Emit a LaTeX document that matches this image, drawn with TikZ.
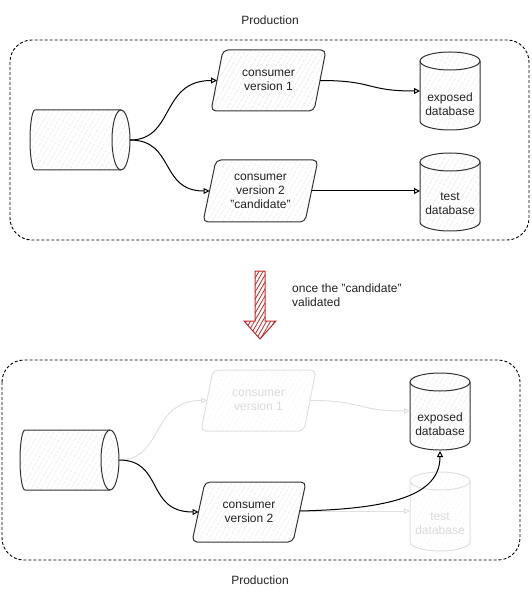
\documentclass[tikz,border=0pt]{standalone}
\usepackage{fontspec}
\setmainfont{Liberation Sans}
\usetikzlibrary{arrows.meta,patterns.meta}
\definecolor{ink}{HTML}{333333}
\definecolor{txtc}{HTML}{222222}
\definecolor{fade}{HTML}{E0E0E0}
\definecolor{fadetext}{HTML}{DADADA}
\definecolor{hatchc}{HTML}{D6D6D6}
\definecolor{fadehatch}{HTML}{F0F0F0}
\definecolor{redline}{HTML}{C62828}

% vertical cylinder: x1 y1 x2 y2 fillopts drawopts  (y grows downwards, arc radii in pt = page angles)
\newcommand{\vcyl}[6]{%
  \pgfmathsetmacro\cylrx{(#3-#1)/2}%
  \path[#5,#6] (#1,#2+9) -- (#1,#4-9) arc[start angle=180,end angle=360,x radius=\cylrx pt,y radius=9pt] -- (#3,#2+9) arc[start angle=0,end angle=180,x radius=\cylrx pt,y radius=9pt] -- cycle;
  \path[#6] (#1,#2+9) arc[start angle=180,end angle=360,x radius=\cylrx pt,y radius=9pt];
}
% horizontal cylinder: x1 y1 x2 y2 fillopts drawopts
\newcommand{\hcyl}[6]{%
  \pgfmathsetmacro\cylry{(#4-#2)/2}%
  \path[#5,#6] (#1+5,#2) -- (#3-9,#2) arc[start angle=90,end angle=-90,x radius=9pt,y radius=\cylry pt] -- (#1+5,#4) arc[start angle=270,end angle=90,x radius=5pt,y radius=\cylry pt] -- cycle;
  \path[#6] (#3-9,#2) arc[start angle=90,end angle=270,x radius=9pt,y radius=\cylry pt];
}

\tikzset{
  hatchfill/.style={pattern={Lines[angle=60,distance=4pt,line width=0.5pt]}, pattern color=hatchc},
  fadefill/.style={pattern={Lines[angle=60,distance=4pt,line width=0.5pt]}, pattern color=fadehatch},
  inkline/.style={draw=ink, line width=1pt},
  fadeline/.style={draw=fade, line width=1pt},
  txt/.style={align=center, font=\fontsize{12}{14}\selectfont, text=txtc, inner sep=0pt},
  fadetxt/.style={txt, text=fadetext},
  frame/.style={draw=black, line width=0.9pt, dash pattern=on 3pt off 2pt, rounded corners=22pt},
  conn/.style={draw=black, line width=1pt, -{Triangle[open,length=6pt,width=6pt]}},
  fadeconn/.style={draw=fade, line width=1pt, -{Triangle[open,length=6pt,width=6pt]}},
  label/.style={font=\fontsize{12}{14}\selectfont, text=txtc, inner sep=0pt},
}

\begin{document}
\begin{tikzpicture}[x=1pt,y=-1pt]
\useasboundingbox (0,0) rectangle (531,601);

% ================= TOP =================
\node[label] (ptop) at (270,20) {Production};
\draw[frame] (10,40) rectangle (529,240);

\hcyl{30}{110}{130}{170}{hatchfill}{inkline}
\coordinate (q1e) at (130,140);

\path[hatchfill,inkline,rounded corners=5pt] (211,111) -- (223,50) -- (326,50) -- (314,111) -- cycle;
\node[txt] (cv1) at (268.5,80.5) {consumer\\version 1};
\coordinate (cv1w) at (217,80.5);
\coordinate (cv1e) at (320,80.5);

\path[hatchfill,inkline,rounded corners=5pt] (203,222) -- (216,160) -- (318,160) -- (305,222) -- cycle;
\node[txt] (cv2) at (260.5,191) {consumer\\version 2\\"candidate"};
\coordinate (cv2w) at (209.5,191);
\coordinate (cv2e) at (311.5,191);

\vcyl{420}{52}{480}{130}{hatchfill}{inkline}
\node[txt] (db1) at (450,104) {exposed\\database};
\coordinate (db1w) at (420,91);

\vcyl{420}{153}{480}{231}{hatchfill}{inkline}
\node[txt] (db2) at (450,204) {test\\database};
\coordinate (db2w) at (420,191);

\draw[conn] (q1e) .. controls +(45,0) and +(-57,0) .. (cv1w);
\draw[conn] (q1e) .. controls +(45,0) and +(-50,0) .. (cv2w);
\draw[conn] (cv1e) .. controls +(55,0) and +(-55,0) .. (db1w);
\draw[conn] (cv2e) -- (db2w);

% ================= ARROW =================
\path[pattern={Lines[angle=60,distance=3.5pt,line width=0.8pt]}, pattern color=redline, draw=redline, line width=1pt]
  (255,271) -- (265,271) -- (265,321) -- (276,321) -- (260,339) -- (244,321) -- (255,321) -- cycle;
\node[label, anchor=west, align=left] (note) at (292,295) {once the "candidate"\\validated};

% ================= BOTTOM =================
\node[label] (pbot) at (260,580) {Production};
\draw[frame] (2,360) rectangle (520,560);

\hcyl{20}{430}{119}{490}{hatchfill}{inkline}
\coordinate (q2e) at (119,460);

\path[fadefill,fadeline,rounded corners=5pt] (201,431) -- (213,370) -- (316,370) -- (304,431) -- cycle;
\node[fadetxt] (cv1f) at (258.5,400.5) {consumer\\version 1};
\coordinate (cv1fw) at (207,400.5);
\coordinate (cv1fe) at (310,400.5);

\vcyl{410}{472}{470}{551}{fadefill}{fadeline}
\node[fadetxt] (db2f) at (440,524) {test\\database};
\coordinate (db2fw) at (410,511);

\path[hatchfill,inkline,rounded corners=5pt] (192,542) -- (205,482) -- (306,482) -- (293,542) -- cycle;
\node[txt] (cv2b) at (249,512) {consumer\\version 2};
\coordinate (cv2bw) at (198.5,512);
\coordinate (cv2be) at (299.5,511);

\vcyl{410}{373}{470}{450}{hatchfill}{inkline}
\node[txt] (db1b) at (440,424) {exposed\\database};
\coordinate (db1bw) at (410,411);
\coordinate (db1bs) at (440,451);

\draw[fadeconn] (q2e) .. controls +(45,0) and +(-57,0) .. (cv1fw);
\draw[fadeconn] (cv1fe) .. controls +(55,0) and +(-55,0) .. (db1bw);
\draw[fadeconn] (cv2be) -- (db2fw);
\draw[conn] (q2e) .. controls +(45,0) and +(-53,0) .. (cv2bw);
\draw[conn] (cv2be) .. controls +(90,-2) and +(0,45) .. (db1bs);
\end{tikzpicture}
\end{document}
